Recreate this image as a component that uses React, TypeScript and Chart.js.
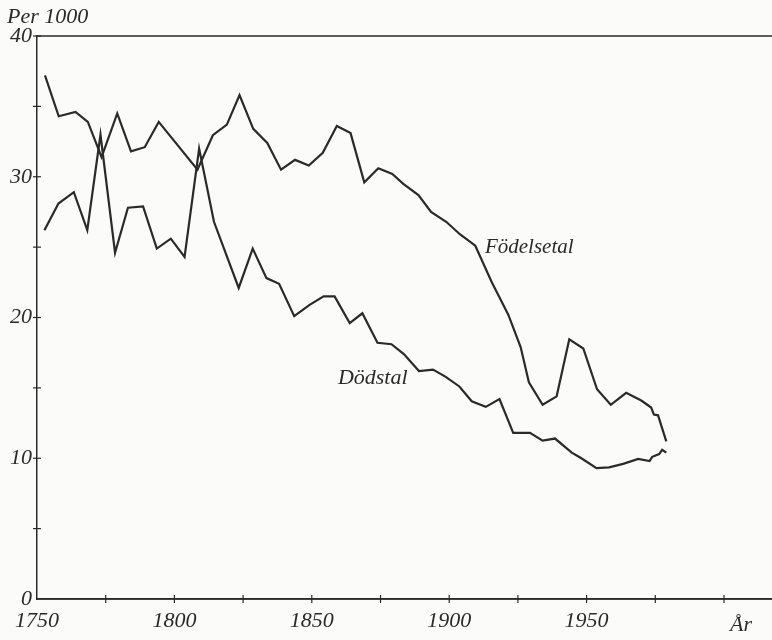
import React, { useEffect, useRef } from 'react';
import { Chart, registerables } from 'chart.js';

Chart.register(...registerables);

// Födelsetal (births per 1000)
const birthYears = [
  1752.9, 1757.9, 1764.0, 1768.5, 1773.5, 1779.2, 1784.2, 1789.2, 1794.3, 1808.4,
  1814.0, 1819.1, 1823.7, 1828.7, 1833.8, 1838.8, 1843.9, 1848.9, 1854.0, 1859.1,
  1864.1, 1869.1, 1874.2, 1879.3, 1883.3, 1888.8, 1893.4, 1898.9, 1904.0, 1909.5,
  1915.5, 1921.5, 1926.0, 1929.0, 1934.0, 1939.1, 1943.7, 1948.8, 1953.8, 1958.8,
  1964.4, 1969.9, 1973.5, 1974.5, 1976.0, 1979.0,
];
const birthRates = [
  37.2, 34.3, 34.6, 33.9, 31.4, 34.5, 31.8, 32.1, 33.9, 30.5,
  32.95, 33.7, 35.8, 33.4, 32.4, 30.5, 31.2, 30.8, 31.7, 33.6,
  33.1, 29.6, 30.6, 30.2, 29.5, 28.7, 27.5, 26.8, 25.9, 25.1,
  22.5, 20.2, 17.9, 15.4, 13.8, 14.4, 18.45, 17.8, 14.9, 13.8,
  14.65, 14.1, 13.6, 13.1, 13.05, 11.2,
];

// Dödstal (deaths per 1000)
const deathYears = [
  1752.7, 1757.8, 1763.4, 1768.3, 1773.1, 1778.4, 1783.1, 1788.6, 1793.6, 1798.7,
  1803.7, 1809.0, 1814.4, 1823.4, 1828.5, 1833.5, 1838.1, 1843.6, 1849.2, 1854.3,
  1858.3, 1863.8, 1868.4, 1873.9, 1879.0, 1883.5, 1889.0, 1894.1, 1898.6, 1903.7,
  1908.2, 1913.3, 1918.3, 1923.3, 1929.4, 1934.0, 1938.5, 1944.6, 1948.1, 1953.6,
  1958.2, 1963.3, 1968.8, 1972.9, 1973.9, 1976.4, 1977.5, 1979.0,
];
const deathRates = [
  26.2, 28.1, 28.9, 26.2, 33.0, 24.6, 27.8, 27.9, 24.9, 25.6,
  24.3, 32.0, 26.8, 22.1, 24.9, 22.8, 22.4, 20.1, 20.9, 21.5,
  21.5, 19.6, 20.3, 18.2, 18.1, 17.4, 16.2, 16.3, 15.8, 15.1,
  14.05, 13.65, 14.2, 11.8, 11.8, 11.25, 11.4, 10.4, 10.0, 9.3,
  9.35, 9.6, 9.95, 9.8, 10.1, 10.3, 10.6, 10.4,
];

const xTickLabels = [1750, 1800, 1850, 1900, 1950];
const yTickLabels = [0, 10, 20, 30, 40];
const xMinorTicks = [1775, 1800, 1825, 1850, 1875, 1900, 1925, 1950, 1975, 2000];
const yMinorTicks = [5, 10, 15, 20, 25, 30, 35, 40];

const FONT = '"Liberation Serif", "DejaVu Serif", serif';
const INK = '#2a2a2a';

export default function App() {
  const ref = useRef<HTMLCanvasElement>(null);

  useEffect(() => {
    if (!ref.current) return;

    const overlay = {
      id: 'overlay',
      beforeDraw(chart: any) {
        const ctx = chart.ctx;
        ctx.save();
        ctx.fillStyle = '#fbfbfa';
        ctx.fillRect(0, 0, chart.width, chart.height);
        ctx.restore();
      },
      afterDraw(chart: any) {
        const ctx = chart.ctx;
        const xs = chart.scales.x;
        const ys = chart.scales.y;
        const area = chart.chartArea;
        ctx.save();
        ctx.strokeStyle = INK;
        ctx.lineWidth = 1.5;
        // top line at 40 and bottom axis to the page edge
        const y40 = ys.getPixelForValue(40);
        const y0 = ys.getPixelForValue(0);
        ctx.beginPath();
        ctx.moveTo(area.left, y40);
        ctx.lineTo(chart.width, y40);
        ctx.moveTo(area.left, y0);
        ctx.lineTo(chart.width, y0);
        ctx.stroke();
        // y ticks crossing axis
        ctx.lineWidth = 1.2;
        yMinorTicks.forEach((v) => {
          const y = ys.getPixelForValue(v);
          ctx.beginPath();
          ctx.moveTo(area.left - 4, y);
          ctx.lineTo(area.left + 4, y);
          ctx.stroke();
        });
        // x ticks crossing axis
        xMinorTicks.forEach((v) => {
          const x = xs.getPixelForValue(v);
          ctx.beginPath();
          ctx.moveTo(x, area.bottom - 4);
          ctx.lineTo(x, area.bottom + 4);
          ctx.stroke();
        });
        // texts
        ctx.fillStyle = INK;
        ctx.textBaseline = 'middle';
        ctx.textAlign = 'left';
        ctx.font = `italic 22px ${FONT}`;
        ctx.fillText('Per 1000', 7, 17);
        ctx.fillText('År', xs.getPixelForValue(2000) + 6, 625);
        ctx.font = `italic 21px ${FONT}`;
        ctx.fillText('Födelsetal', xs.getPixelForValue(1913.0), ys.getPixelForValue(24.98));
        ctx.font = `italic 22px ${FONT}`;
        ctx.fillText('Dödstal', xs.getPixelForValue(1859.5), ys.getPixelForValue(15.66));
        ctx.restore();
      },
    };

    const chart = new Chart(ref.current, {
      type: 'line',
      data: {
        datasets: [
          {
            label: 'Födelsetal',
            data: birthYears.map((x, i) => ({ x, y: birthRates[i] })),
            borderColor: INK,
            borderWidth: 2.2,
            pointRadius: 0,
            tension: 0,
            fill: false,
          },
          {
            label: 'Dödstal',
            data: deathYears.map((x, i) => ({ x, y: deathRates[i] })),
            borderColor: INK,
            borderWidth: 2.2,
            pointRadius: 0,
            tension: 0,
            fill: false,
          },
        ],
      },
      options: {
        animation: false,
        responsive: false,
        maintainAspectRatio: false,
        layout: { padding: { top: 36, left: 0, right: 0, bottom: 0 } },
        plugins: { legend: { display: false }, tooltip: { enabled: false } },
        scales: {
          x: {
            type: 'linear',
            min: 1750,
            max: 2017.47,
            afterFit: (s: any) => {
              s.height = 41;
            },
            grid: { display: false, drawTicks: false },
            border: { display: true, color: INK, width: 1.5 },
            ticks: {
              stepSize: 25,
              autoSkip: false,
              maxRotation: 0,
              padding: 0,
              color: INK,
              font: { family: FONT, size: 22, style: 'italic', lineHeight: 2 },
              callback: (v: any) => (xTickLabels.includes(Number(v)) ? String(v) : ''),
            },
          },
          y: {
            type: 'linear',
            min: 0,
            max: 40,
            afterFit: (s: any) => {
              s.width = 37;
            },
            grid: { display: false, drawTicks: false },
            border: { display: true, color: INK, width: 1.5 },
            ticks: {
              stepSize: 5,
              autoSkip: false,
              padding: 5,
              color: INK,
              font: { family: FONT, size: 22, style: 'italic' },
              callback: (v: any) => (yTickLabels.includes(Number(v)) ? String(v) : ''),
            },
          },
        },
      },
      plugins: [overlay],
    });

    return () => chart.destroy();
  }, []);

  return (
    <div style={{ position: 'fixed', left: 0, top: 0, width: 772, height: 640 }}>
      <canvas ref={ref} width={772} height={640} style={{ width: 772, height: 640, display: 'block' }} />
    </div>
  );
}
